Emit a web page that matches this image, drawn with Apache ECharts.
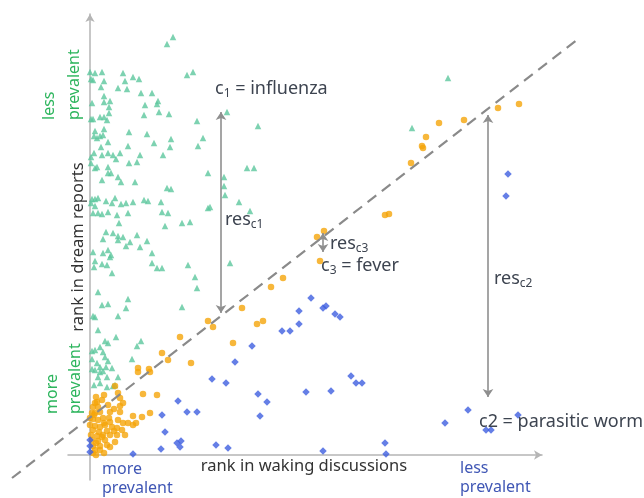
<!DOCTYPE html>
<html><head><meta charset="utf-8">
<script src="https://cdn.jsdelivr.net/npm/echarts@6/dist/echarts.min.js"></script>
<style>html,body{margin:0;padding:0;background:#fff}#c{width:644px;height:498px}</style>
</head><body><div id="c"></div><script>
// rank values (x = rank in waking discussions, y = rank in dream reports)
const greenPts = [
[83,418],[77,411],[0,383],[5,382],[12,383],[33,382],[97,380],[103,383],[1,376],[3,375],[14,374],[35,374],[43,378],[49,376],
[11,368],[28,367],[37,366],[51,362],[62,362],[14,359],[2,352],[14,353],[20,354],[68,354],[67,351],[55,350],[19,348],[19,342],
[69,343],[79,341],[54,340],[1,336],[3,336],[10,338],[14,338],[17,335],[107,334],[14,326],[5,324],[39,323],[57,321],[4,319],
[7,317],[10,319],[13,320],[18,313],[113,317],[81,316],[11,308],[38,309],[64,312],[80,308],[108,309],[4,302],[12,300],[18,302],
[23,300],[30,302],[50,300],[73,300],[1,298],[26,296],[1,292],[39,292],[47,293],[5,287],[7,288],[18,288],[18,282],[21,282],
[118,282],[28,278],[31,273],[12,275],[45,273],[77,267],[81,266],[2,256],[5,256],[8,257],[16,254],[22,252],[25,257],[31,251],
[36,252],[43,253],[54,255],[58,254],[71,253],[1,252],[5,249],[118,247],[120,248],[3,242],[8,242],[12,241],[18,243],[27,240],
[38,242],[72,243],[78,242],[29,232],[92,232],[100,233],[75,229],[16,223],[23,222],[28,219],[33,218],[47,220],[13,216],[28,215],
[40,213],[57,214],[36,209],[50,208],[3,203],[13,202],[18,205],[21,200],[20,198],[62,202],[5,194],[62,192],[12,191],[17,190],
[4,188],[98,190],[67,187],[72,187],[137,343],[168,329],[134,278],[157,287],[164,287],[134,269],[135,260],[149,253],[160,244],
[322,327],[358,377],[140,192],[22,182],[105,178],[8,163],[107,167],[12,150],[18,151],[38,156],[36,147],[92,148],[3,139],
[5,138],[28,139],[8,125],[26,118],[15,114],[18,112],[51,114],[47,109],[10,108],[2,104],[5,105],[13,103],[2,96],[15,98],
[18,94],[42,96],[7,92],[10,88],[16,88],[2,86],[22,87],[10,83],[13,84],[8,78],[17,78],[28,78],[17,68],[25,70],[4,70],[10,72],
[5,85],[23,69]
];
const orangePts = [
[48,87],[48,83],[59,86],[60,83],[53,61],[67,60],[14,60],[30,57],[7,53],[5,52],[3,48],[8,48],[30,49],[33,52],[10,43],[20,43],
[30,43],[2,42],[5,42],[43,39],[52,38],[60,42],[0,37],[3,36],[8,35],[13,37],[19,37],[28,35],[33,32],[38,32],[43,30],[0,30],
[5,29],[10,28],[15,30],[22,28],[3,25],[9,23],[17,24],[27,27],[32,25],[1,20],[7,19],[13,20],[20,20],[27,20],[2,15],[8,14],
[15,15],[25,13],[3,9],[10,9],[17,10],[5,5],[10,5],[3,2],[25,69],[28,62],[72,102],[78,95],[90,118],[101,92],[118,134],[123,128],
[46,32],[35,20],[152,147],[167,131],[173,134],[143,112],[181,168],[193,177],[230,194],[227,218],[234,224],[295,240],[299,241],
[321,292],[332,309],[333,307],[336,318],[349,332],[374,335],[408,347],[429,351],
[6,58],[12,55],[18,50],[24,46],[4,40],[14,32],[20,33],[24,24],[6,12],[12,18],[20,8],[6,0],[14,2]
];
const bluePts = [
[221,157],[209,144],[233,147],[236,149],[245,141],[250,138],[192,124],[200,124],[209,131],[162,109],[145,93],[122,76],[136,72],
[261,79],[266,72],[272,72],[168,61],[216,63],[241,64],[177,53],[170,39],[355,32],[126,10],[138,7],[295,12],[233,4],[296,1],
[88,54],[72,40],[97,43],[107,43],[75,23],[87,12],[91,14],[90,8],[71,6],[43,1],[0,15],[0,9],[0,3],[418,281],[416,259],
[378,45],[428,40],[396,25],[401,25]
];
// reference diagonal (ends) and residual arrows
const diagLine = [[-78,-23],[488,416]];
const resC1 = [[131,343],[131,142]];
const resC3 = [[233,222],[233,203]];
const resC2 = [[398,340],[398,58]];

const FONT = '"Noto Sans", "Open Sans", sans-serif';
const DARK = '#3d4450', GREEN = '#2db55d', BLUE = '#4057b5', AX = '#333';
const cv = document.createElement('canvas').getContext('2d');
function w(t, s){ cv.font = s + 'px "Noto Sans"'; return cv.measureText(t).width; }
function txt(x, y, text, size, color, o){
  o = o || {};
  return {type:'text', x:x, y:y, rotation:o.rot||0, silent:true, z:100,
    style:{text:text, fontSize:size, fontFamily:FONT, fill:color,
      align:o.align||'left', textAlign:o.align||'left',
      verticalAlign:o.va||'middle', textVerticalAlign:o.va||'middle',
      lineHeight:o.lh||undefined}};
}
function parts(x, y, list){
  const out = []; let cx = x;
  list.forEach(p => { out.push(txt(cx, y + (p[2]||0), p[0], p[1], DARK)); cx += w(p[0], p[1]); });
  return out;
}
const graphics = [].concat(
  [txt(78, 247, 'rank in dream reports', 16.5, AX, {align:'center', rot:Math.PI/2})],
  [txt(304, 466, 'rank in waking discussions', 16.5, AX, {align:'center'})],
  [txt(37, 120, 'less\nprevalent', 16, GREEN, {rot:Math.PI/2, va:'top', lh:25})],
  [txt(41, 414, 'more\nprevalent', 16, GREEN, {rot:Math.PI/2, va:'top', lh:23})],
  [txt(102, 460, 'more\nprevalent', 16, BLUE, {va:'top', lh:19})],
  [txt(460, 459, 'less\nprevalent', 16, BLUE, {va:'top', lh:19})],
  parts(215, 89, [['c',18],['1',12,5],[' = influenza',18]]),
  parts(225, 220, [['res',18],['c1',12,5]]),
  parts(330, 244, [['res',18],['c3',12,5]]),
  parts(321, 266, [['c',18],['3',12,5],[' = fever',18]]),
  parts(494, 279, [['res',18],['c2',12,5]]),
  parts(479, 422, [['c2 = parasitic worm',18]])
);
function arrow(pts){ return [{coord:pts[0]},{coord:pts[1]}]; }
const option = {
  animation:false,
  grid:{left:68, right:102, top:14, bottom:18},
  xAxis:{type:'value', min:-22, max:452, splitLine:{show:false}, axisTick:{show:false}, axisLabel:{show:false},
    axisLine:{show:true, onZero:true, symbol:['none','arrow'], symbolSize:[7,8], lineStyle:{color:'#b5b5b5', width:1.5}}},
  yAxis:{type:'value', min:-25, max:441, splitLine:{show:false}, axisTick:{show:false}, axisLabel:{show:false},
    axisLine:{show:true, onZero:true, symbol:['none','arrow'], symbolSize:[7,8], lineStyle:{color:'#b5b5b5', width:1.5}}},
  series:[
    {type:'scatter', data:greenPts, symbol:'triangle', symbolSize:6.5, itemStyle:{color:'#5cc79e'}, z:2, silent:true},
    {type:'scatter', data:orangePts, symbol:'circle', symbolSize:6.5, itemStyle:{color:'#f5a50a'}, z:3, silent:true},
    {type:'scatter', data:bluePts, symbol:'diamond', symbolSize:7.5, itemStyle:{color:'#3f5fe0'}, z:4, silent:true,
      markLine:{silent:true, symbol:['arrow','arrow'], symbolSize:8, label:{show:false},
        lineStyle:{color:'#8f8f8f', width:1.6, type:'solid'}, emphasis:{disabled:true},
        data:[arrow(resC1), arrow(resC2), arrow(resC3)]}}
  ]
};
const chart = echarts.init(document.getElementById('c'));
chart.setOption(option);
const a = chart.convertToPixel({gridIndex:0}, diagLine[0]);
const b = chart.convertToPixel({gridIndex:0}, diagLine[1]);
chart.setOption({graphic: graphics.concat([{type:'line', silent:true, z:50,
  shape:{x1:a[0], y1:a[1], x2:b[0], y2:b[1]},
  style:{stroke:'#8a8a8a', lineWidth:2.2, lineDash:[11,7]}}])});
</script></body></html>
